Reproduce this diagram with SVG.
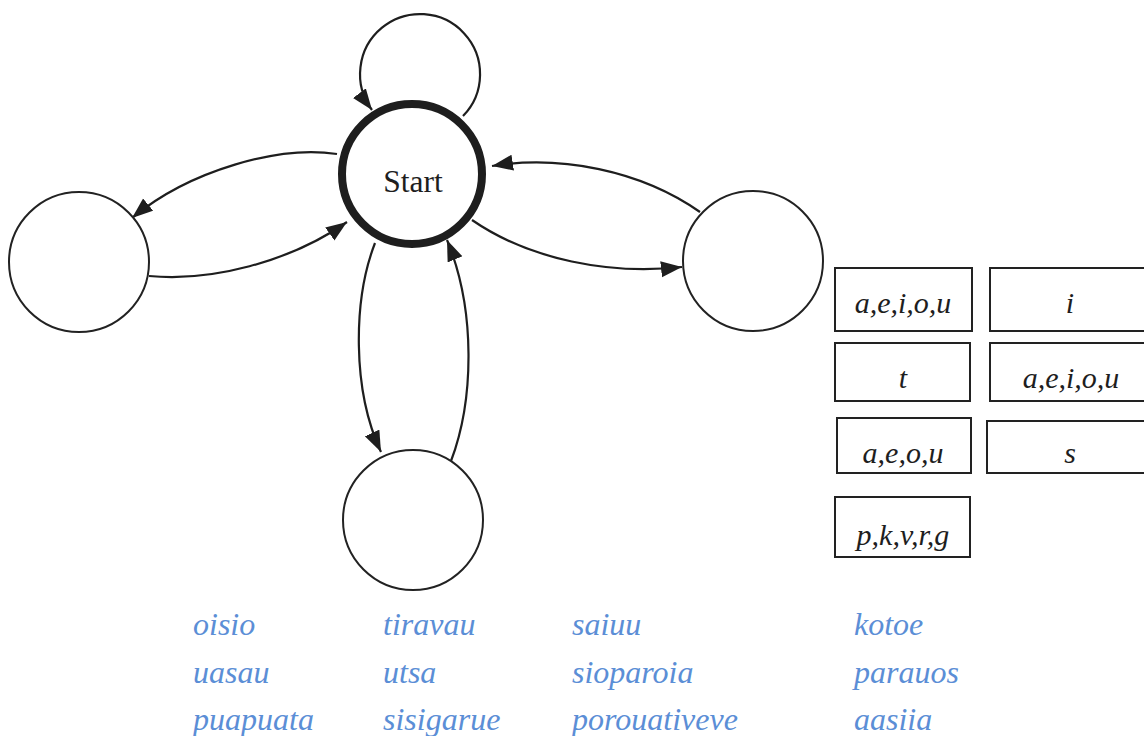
<svg xmlns="http://www.w3.org/2000/svg" width="1144" height="736" viewBox="0 0 1144 736">
<defs>
<marker id="ah" markerUnits="userSpaceOnUse" markerWidth="24" markerHeight="18" refX="21" refY="8" orient="auto">
<path d="M0,0 L21,8 L0,16 z" fill="#1e1e1e"/>
</marker>
<style>
.st{fill:#fff;stroke:#222;stroke-width:2}
.bx{fill:#fff;stroke:#222;stroke-width:2}
.e{fill:none;stroke:#1e1e1e;stroke-width:2.2;marker-end:url(#ah)}
.lb{font-family:"Liberation Serif","Times New Roman",serif;font-style:italic;font-size:30px;fill:#1e1e1e;text-anchor:middle}
.w{font-family:"Liberation Serif","Times New Roman",serif;font-style:italic;font-size:32px;fill:#5b8ed6}
</style>
</defs>
<rect width="1144" height="736" fill="#fff"/>
<g id="connectors">
<path class="e" d="M463,116 A60,60 0 1 0 372,110"/>
<path class="e" d="M337,154 C280,145 190,170 132,218"/>
<path class="e" d="M149,276 C210,282 290,262 347,222"/>
<path class="e" d="M472,220 C530,260 610,275 682,267"/>
<path class="e" d="M700,212 C640,170 560,155 492,166"/>
<path class="e" d="M375,243 C353,300 352,390 381,452"/>
<path class="e" d="M451,461 C474,400 476,310 447,240"/>
</g>
<g id="start">
<circle cx="412" cy="174" r="70" fill="#fff" stroke="#1e1e1e" stroke-width="8"/>
<text x="413" y="192" font-family="'Liberation Serif','Times New Roman',serif" font-size="31.5" fill="#1e1e1e" text-anchor="middle">Start</text>
</g>
<g id="left"><circle class="st" cx="79" cy="262" r="70"/></g>
<g id="right"><circle class="st" cx="753" cy="261" r="70"/></g>
<g id="bottom"><circle class="st" cx="413" cy="520" r="70"/></g>
<g id="box1"><rect class="bx" x="835" y="268" width="137" height="63"/><text class="lb" x="903" y="313">a,e,i,o,u</text></g>
<g id="box2"><rect class="bx" x="990" y="268" width="170" height="63"/><text class="lb" x="1070" y="313">i</text></g>
<g id="box3"><rect class="bx" x="835" y="343" width="135" height="58"/><text class="lb" x="903" y="388">t</text></g>
<g id="box4"><rect class="bx" x="990" y="343" width="170" height="58"/><text class="lb" x="1071" y="388">a,e,i,o,u</text></g>
<g id="box5"><rect class="bx" x="837" y="418" width="134" height="55"/><text class="lb" x="903" y="463">a,e,o,u</text></g>
<g id="box6"><rect class="bx" x="987" y="421" width="170" height="52"/><text class="lb" x="1070" y="463">s</text></g>
<g id="box7"><rect class="bx" x="835" y="497" width="135" height="60"/><text class="lb" x="903" y="545">p,k,v,r,g</text></g>
<g id="words">
<text class="w" x="193" y="635">oisio</text>
<text class="w" x="193" y="683">uasau</text>
<text class="w" x="193" y="730">puapuata</text>
<text class="w" x="383" y="635">tiravau</text>
<text class="w" x="383" y="683">utsa</text>
<text class="w" x="383" y="730">sisigarue</text>
<text class="w" x="572" y="635">saiuu</text>
<text class="w" x="572" y="683">sioparoia</text>
<text class="w" x="572" y="730">porouativeve</text>
<text class="w" x="854" y="635">kotoe</text>
<text class="w" x="854" y="683">parauos</text>
<text class="w" x="854" y="730">aasiia</text>
</g>
</svg>
